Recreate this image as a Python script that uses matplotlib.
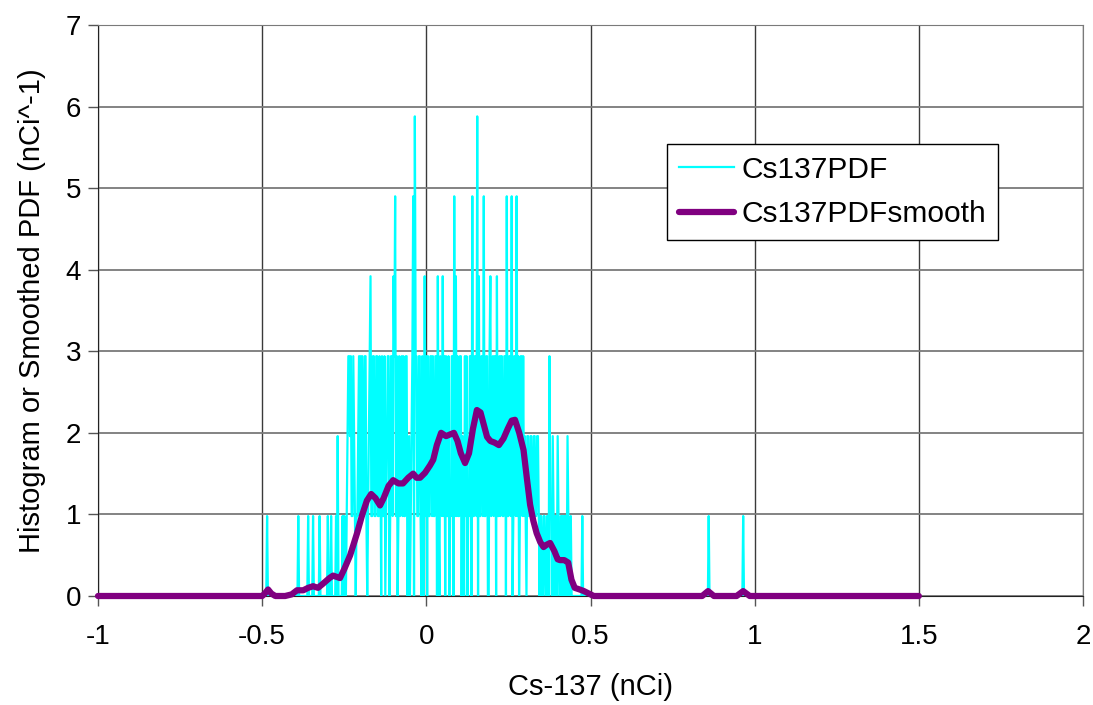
import matplotlib
matplotlib.use("Agg")
import matplotlib.pyplot as plt
import numpy as np

plt.rcParams['font.family'] = ['Liberation Sans', 'DejaVu Sans']
plt.rcParams['axes.unicode_minus'] = False

# histogram line on a 0.0025 grid from -1 to 1.5, one count = 0.98 nCi^-1
grid_step = 0.0025
x_lo, x_hi = -1.0, 1.5
pdf_per_count = 0.98

# dense part of the histogram: points at -0.25, -0.245, ... 0.45
core_start = -0.25
core_counts = [1, 0, 2, 3, 3, 1, 2, 0, 1, 3,
               3, 3, 1, 3, 0, 2, 4, 1, 3, 1,
               3, 1, 2, 3, 1, 0, 2, 3, 1, 3,
               4, 5, 3, 1, 1, 3, 3, 1, 3, 1,
               0, 2, 5, 6, 3, 1, 3, 0, 2, 4,
               3, 3, 1, 3, 3, 1, 3, 4, 0, 2,
               4, 3, 3, 1, 0, 1, 3, 5, 4, 3,
               1, 3, 2, 0, 1, 0, 1, 3, 5, 1,
               3, 6, 4, 1, 3, 5, 1, 3, 0, 4,
               2, 1, 3, 4, 1, 1, 3, 1, 3, 5,
               1, 3, 5, 1, 3, 5, 3, 1, 3, 3,
               2, 0, 2, 1, 2, 1, 2, 1, 2, 0,
               1, 0, 1, 0, 1, 3, 1, 2, 0, 1,
               2, 0, 1, 1, 0, 1, 2, 0, 1, 0,
               0]
# points in between: -0.2475, -0.2425, ... 0.4475
mid_counts = [0, 1, 3, 2, 1, 3, 1, 1, 2, 1,
              1, 2, 3, 1, 1, 3, 1, 3, 1, 3,
              1, 3, 0, 1, 3, 1, 3, 0, 3, 1,
              3, 1, 0, 3, 2, 1, 1, 3, 0, 2,
              1, 3, 0, 3, 1, 3, 1, 3, 0, 1,
              0, 1, 3, 1, 1, 3, 0, 1, 3, 1,
              1, 0, 1, 3, 1, 3, 0, 1, 1, 1,
              3, 0, 1, 3, 3, 1, 3, 0, 1, 3,
              1, 0, 1, 3, 1, 1, 3, 0, 3, 1,
              3, 3, 0, 1, 3, 3, 1, 3, 0, 1,
              3, 1, 0, 3, 1, 1, 0, 3, 1, 1,
              1, 2, 1, 2, 1, 2, 1, 2, 1, 1,
              0, 1, 0, 1, 0, 1, 0, 1, 1, 0,
              1, 0, 0, 1, 1, 0, 1, 0, 0, 0]

# isolated spikes outside the dense part
single_x = [-0.485, -0.39, -0.36, -0.345, -0.325, -0.30, -0.29, -0.275, -0.27, -0.255, 0.475, 0.86, 0.965]
single_counts = [1, 1, 1, 1, 1, 1, 1, 1, 2, 1, 1, 1, 1]

# smoothed PDF
smooth_x = [-1.0, -0.50, -0.492, -0.482, -0.472, -0.46, -0.43, -0.41, -0.394, -0.375,
            -0.36, -0.345, -0.33, -0.315, -0.295, -0.284, -0.263, -0.25, -0.232, -0.211,
            -0.195, -0.181, -0.168, -0.155, -0.141, -0.13, -0.115, -0.101, -0.085, -0.071,
            -0.055, -0.04, -0.03, -0.019, -0.004, 0.011, 0.021, 0.032, 0.045, 0.06,
            0.072, 0.084, 0.095, 0.105, 0.118, 0.13, 0.142, 0.154, 0.165, 0.175,
            0.185, 0.195, 0.208, 0.221, 0.235, 0.248, 0.26, 0.27, 0.283, 0.296,
            0.306, 0.316, 0.326, 0.336, 0.347, 0.357, 0.367, 0.377, 0.39, 0.40,
            0.407, 0.42, 0.432, 0.442, 0.452, 0.467, 0.48, 0.50, 0.51, 0.84,
            0.858, 0.876, 0.945, 0.965, 0.985, 1.5]
smooth_y = [0, 0, 0.03, 0.08, 0.03, 0, 0, 0.02, 0.07, 0.07,
            0.10, 0.12, 0.10, 0.15, 0.22, 0.25, 0.22, 0.33, 0.50, 0.77,
            1.00, 1.17, 1.25, 1.20, 1.11, 1.20, 1.35, 1.42, 1.38, 1.38,
            1.45, 1.50, 1.45, 1.45, 1.51, 1.60, 1.67, 1.85, 2.00, 1.96,
            1.98, 2.00, 1.90, 1.75, 1.63, 1.75, 2.05, 2.28, 2.25, 2.10,
            1.95, 1.90, 1.88, 1.85, 1.93, 2.05, 2.15, 2.16, 2.00, 1.79,
            1.45, 1.12, 0.92, 0.77, 0.66, 0.60, 0.63, 0.65, 0.55, 0.45,
            0.44, 0.44, 0.41, 0.20, 0.10, 0.08, 0.06, 0.02, 0, 0,
            0.06, 0, 0, 0.06, 0, 0]

x_ticks = [-1, -0.5, 0, 0.5, 1, 1.5, 2]
x_tick_labels = ['-1', '-0.5', '0', '0.5', '1', '1.5', '2']

# build the full histogram series
n_pts = int(round((x_hi - x_lo) / grid_step)) + 1
hist_x = np.linspace(x_lo, x_hi, n_pts)
counts = np.zeros(n_pts)
i0 = int(round((core_start - x_lo) / grid_step))
counts[i0:i0 + 2 * len(core_counts):2] = core_counts
counts[i0 + 1:i0 + 1 + 2 * len(mid_counts):2] = mid_counts
for xv, c in zip(single_x, single_counts):
    counts[int(round((xv - x_lo) / grid_step))] = c
hist_y = counts * pdf_per_count

fig = plt.figure(figsize=(10.93, 7.05), dpi=100)
ax = fig.add_axes([98 / 1093, 109 / 705, 985 / 1093, 571 / 705])

ax.plot(hist_x, hist_y, color='#00FFFF', lw=1.6, label='Cs137PDF', zorder=3)
ax.plot(smooth_x, smooth_y, color='#800080', lw=4.5, label='Cs137PDFsmooth',
        solid_joinstyle='round', solid_capstyle='round', clip_on=False, zorder=4)

ax.set_xlim(-1, 2)
ax.set_ylim(0, 7)
ax.set_xticks(x_ticks)
ax.set_xticklabels(x_tick_labels)
ax.set_yticks(range(0, 8))

ax.grid(True, axis='x', color='#3a3a3a', lw=1.0, zorder=0)
ax.grid(True, axis='y', color='#7a7a7a', lw=1.3, zorder=0)
ax.set_axisbelow(True)
for s in ['top', 'right']:
    ax.spines[s].set_color('#7a7a7a')
for s in ['left', 'bottom']:
    ax.spines[s].set_color('#222222')

ax.tick_params(axis='both', direction='out', length=7, width=1, color='#555555',
               labelsize=20)
ax.tick_params(axis='x', pad=13)
ax.tick_params(axis='y', pad=5)

ax.set_xlabel('Cs-137 (nCi)', fontsize=21, labelpad=17)
ax.set_ylabel('Histogram or Smoothed PDF (nCi^-1)', fontsize=21, labelpad=14)

leg = ax.legend(loc='upper left', bbox_to_anchor=(667 / 1093, 1 - 144 / 705),
                bbox_transform=fig.transFigure, fontsize=21.5, frameon=True,
                fancybox=False, edgecolor='black', framealpha=1,
                handlelength=1.85, handletextpad=0.25, labelspacing=0.55,
                borderpad=0.4, borderaxespad=0)
leg.get_frame().set_linewidth(1.0)

fig.savefig('out.png', dpi=100)
